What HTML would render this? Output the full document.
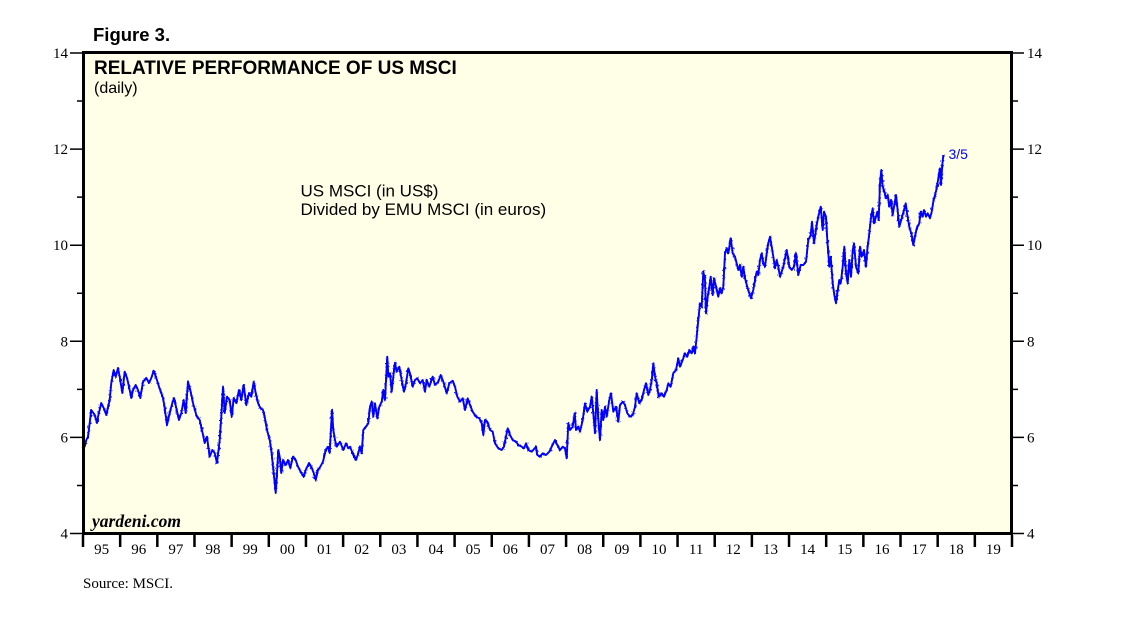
<!DOCTYPE html>
<html>
<head>
<meta charset="utf-8">
<style>
html,body{margin:0;padding:0;background:#fff;}
svg{display:block;}
.ax{font-family:"Liberation Serif",serif;font-size:15px;fill:#000;}
.sans{font-family:"Liberation Sans",sans-serif;}
</style>
</head>
<body>
<svg width="1138" height="621" viewBox="0 0 1138 621" xmlns="http://www.w3.org/2000/svg" xmlns:xlink="http://www.w3.org/1999/xlink">
  <defs>
    <filter id="jit" filterUnits="userSpaceOnUse" x="78" y="48" width="940" height="490">
      <feTurbulence type="fractalNoise" baseFrequency="0.7 0.4" numOctaves="2" seed="7" result="t"/>
      <feDisplacementMap in="SourceGraphic" in2="t" scale="6" xChannelSelector="R" yChannelSelector="G"/>
    </filter>
    <polyline id="data" fill="none" stroke-linejoin="round" points="83.5,450 86.3,440 88,436.7 91.3,410 94.7,415 97,423 98,416.7 101.3,403 103.7,408 106.3,415 109.7,400 111.3,383 113.7,370 115.7,376.7 118,368 119.7,376.7 122.3,393 124.7,371.7 127,378 129,386.7 131.3,398 133,390 135.7,385 138,390 140.3,398 143,381.7 146.3,378 149,383 151.3,378 153.7,370.7 156.3,378 159,386.7 163,398 164.7,408 167,425 169.7,413 172.3,403 174,398 176.3,408 179,420 181.3,413 183.7,400 185.7,413 188,381.7 190.3,390 193,403 196.3,415 199.7,420 202.3,431.7 204.7,443 207,436.7 209.7,456.7 212.3,450 214.7,453 217,463 219.7,440 221.3,416.7 223,386.7 224.7,413 227,396.7 229.7,400 231.7,416.7 233.7,398 236.3,403 239,390 241.3,400 243.7,385 246.3,405 249,393 251.3,396.7 253.7,381.7 255.7,393 258,403 260.3,408 263,410 264.7,416.7 267,430 269.7,440 271.3,450 273,466.7 274.7,483 275.7,493 277,473 278.3,450 279.7,456.7 281.3,473 283,460 285.7,465 288,460 290.3,468 293,456.7 295.7,460 298,466.7 301.3,473 303.7,476.7 305.7,470 309,463 311.3,466.7 313.7,473 315.7,480 318,470 320.3,466.7 323,461.7 325.7,450 328,446.7 329.7,453 332,410 333.3,430 335,440 336.7,446.7 340,441.7 343.3,450 346,443.3 348.3,448.3 350,446.7 353.3,455 356,460 358.3,453.3 360,446.7 361.7,453.3 363.3,430 366,426.7 368.3,423.3 370,406.7 371.7,401.7 373.3,416.7 375,403.3 377.3,418.3 379.3,406.7 381.7,401.7 383.3,390 385,400 386,380 387.3,356.7 388.3,376.7 390,373.3 391.7,391.7 393.3,376.7 395,362.7 396.7,371.7 399.3,366.7 401.7,380 404,391.7 406,383.3 408.3,368.3 410,373.3 412.7,386.7 415,380 417.3,378.3 420,383.3 422.7,380 425,391.7 426.7,380 429.3,386.7 432.7,376.7 435,385 438.3,381.7 440.7,375 443.3,381.7 446.7,393.3 449.3,383.3 452.7,380.7 455,386.7 457.3,396.7 460,401.7 462.7,398.3 465,410 467.7,398.3 470,405 472.7,411.7 476,416.7 479.3,418.3 481.7,423.3 483.3,435 485,420 487.3,421.7 490,430 492.7,431.7 495,443.3 498.3,448.3 501.7,450 504,446.7 506,436.7 507.7,428.3 510,435 512.7,440 516,441.7 518.3,445 521.7,446.7 524,448.3 526,443.3 528.3,450 531.7,451.7 536,446.7 537.3,455 540,456.7 542.7,453.3 546,455 549.3,451.7 551.7,446.7 555,440 557.3,445 560,450 562.7,446.7 565,448.3 566.7,458.3 568.3,423.3 570,430 572.7,426.7 574.7,413.3 576,430 578.3,426.7 580,431.7 582.7,420 585,403.3 587.3,411.7 590,406.7 591.7,396.7 593.3,413.3 595,433.3 596.7,390 598.3,420 600,440 601.7,410 603.3,420 605,406.7 606.7,416.7 609.3,400 611,393.3 613.3,411.7 616,406.7 618.3,421.7 620,405 622.7,401.7 625,405 627.3,413.3 630,416.7 632.7,415 635,406.7 636.7,393.3 639.3,403.3 641.7,400 644,390 646,383.3 648.3,395 650,390 651.7,380 653.3,363.3 655,376.7 656.7,383.3 658.7,396.7 661.7,393.3 664,396.7 666.7,390 668.3,383.3 670.7,386.7 673.3,373.3 676,370 678.3,358.3 680,366.7 682.7,360 685,353.3 687.3,356.7 689.3,350 691.7,353.3 693.3,346.7 695,353.3 696.7,336.7 698.3,320 700,303.3 701.7,306.7 703.3,271.7 705,280 706,313.3 707.7,296.7 709.3,286.7 710.7,276.7 712.7,295 714,278.3 716,286.7 718.3,296.7 720,288.3 721.7,293.3 723.3,286.7 725,253.3 726.7,248.3 728.3,253.3 730.7,238.3 732.7,253.3 735,256.7 736.7,263.3 738.3,270 740,265 741.7,276.7 743.3,266.7 745,278.3 747.3,286.7 749.3,293.3 751,298.3 753.3,290 755,280 756.7,271.7 758.3,275 760,260 761.7,253.3 763.3,263.3 765,266.7 766.7,253.3 768.3,243.3 770,236.7 771.7,246.7 773.3,256.7 775,268.3 776.7,260 778.3,266.7 780,276.7 783.3,266.7 786.7,250 789.3,266.7 791.7,270 794,266.7 796,253.3 798.3,275 800.7,265 803.3,265 806,261.7 808.3,240 810.7,235 812,221.7 814,243.3 816.7,225 818.3,216.7 820.7,206.7 822.7,230 824,211.7 826,216.7 827.3,240 829.3,266.7 830.7,256.7 832.7,283.3 834.3,295 836,303.3 837.3,293.3 839.3,280 840.7,283.3 842.7,266.7 844.3,246.7 846,273.3 847.7,283.3 849.3,260 851,276.7 852.7,250 854,243.3 856,266.7 858.3,273.3 860,246.7 861.7,256.7 864,250 866,266.7 867.3,250 869.3,233.3 870.7,220 872.7,208.3 874,223.3 876,216.7 877.3,211.7 878.7,220 880,183.3 881.3,170 882.7,186.7 884,190 886,198.3 887.7,195 889.3,206.7 891,200 892.7,215 894.3,205 896,195 897.3,206.7 899.3,226.7 901.7,218.3 904,210 905.7,203.3 907.3,215 909.3,226.7 911.7,235 913.3,245 915,236.7 916.7,228.3 919.3,223.3 920.7,211.7 922.7,216.7 924,210 926,216.7 927.7,213.3 930,218.3 931.7,211.7 933.3,201.7 935,195 936.7,188.3 938.3,178.3 940,168.3 941,185 942.3,165 943.3,155"/>
  </defs>
  <rect x="0" y="0" width="1138" height="621" fill="#fff"/>
  <rect x="83.5" y="52.5" width="928" height="481" fill="#fffee6"/>

  <text x="93" y="41" class="sans" font-size="18.5" font-weight="bold">Figure 3.</text>
  <text x="94" y="74" class="sans" font-size="19" font-weight="bold">RELATIVE PERFORMANCE OF US MSCI</text>
  <text x="94" y="93" class="sans" font-size="16">(daily)</text>
  <text x="300.5" y="196.7" class="sans" font-size="17">US MSCI (in US$)</text>
  <text x="300.5" y="215" class="sans" font-size="17">Divided by EMU MSCI (in euros)</text>
  <text x="92" y="527" font-family="'Liberation Serif',serif" font-size="17.5" font-weight="bold" font-style="italic">yardeni.com</text>
  <text x="83" y="588" class="ax">Source: MSCI.</text>
  <text x="948.5" y="159" class="sans" font-size="14" fill="#0000ff">3/5</text>

  <path stroke="#000" stroke-width="1.5" fill="none" d="
    M70,533.5H83 M70,437.4H83 M70,341.3H83 M70,245.2H83 M70,149.1H83 M70,53H83
    M77,485.45H83 M77,389.35H83 M77,293.25H83 M77,197.15H83 M77,101.05H83
    M1012,533.5H1024 M1012,437.4H1024 M1012,341.3H1024 M1012,245.2H1024 M1012,149.1H1024 M1012,53H1024
    M1012,485.45H1018 M1012,389.35H1018 M1012,293.25H1018 M1012,197.15H1018 M1012,101.05H1018"/>
  <g class="ax" text-anchor="end">
    <text x="68" y="538.5">4</text><text x="68" y="442.4">6</text><text x="68" y="346.3">8</text>
    <text x="68" y="250.2">10</text><text x="68" y="154.1">12</text><text x="68" y="58">14</text>
  </g>
  <g class="ax" text-anchor="start">
    <text x="1027" y="538.5">4</text><text x="1027" y="442.4">6</text><text x="1027" y="346.3">8</text>
    <text x="1027" y="250.2">10</text><text x="1027" y="154.1">12</text><text x="1027" y="58">14</text>
  </g>

  <path stroke="#000" stroke-width="2.5" fill="none" d="
    M83,535V547 M120.16,535V547 M157.32,535V547 M194.48,535V547 M231.64,535V547 M268.8,535V547
    M305.96,535V547 M343.12,535V547 M380.28,535V547 M417.44,535V547 M454.6,535V547 M491.76,535V547
    M528.92,535V547 M566.08,535V547 M603.24,535V547 M640.4,535V547 M677.56,535V547 M714.72,535V547
    M751.88,535V547 M789.04,535V547 M826.2,535V547 M863.36,535V547 M900.52,535V547 M937.68,535V547
    M974.84,535V547 M1012,535V547"/>
  <g class="ax" text-anchor="middle">
    <text x="101.58" y="554">95</text><text x="138.74" y="554">96</text><text x="175.9" y="554">97</text>
    <text x="213.06" y="554">98</text><text x="250.22" y="554">99</text><text x="287.38" y="554">00</text>
    <text x="324.54" y="554">01</text><text x="361.7" y="554">02</text><text x="398.86" y="554">03</text>
    <text x="436.02" y="554">04</text><text x="473.18" y="554">05</text><text x="510.34" y="554">06</text>
    <text x="547.5" y="554">07</text><text x="584.66" y="554">08</text><text x="621.82" y="554">09</text>
    <text x="658.98" y="554">10</text><text x="696.14" y="554">11</text><text x="733.3" y="554">12</text>
    <text x="770.46" y="554">13</text><text x="807.62" y="554">14</text><text x="844.78" y="554">15</text>
    <text x="881.94" y="554">16</text><text x="919.1" y="554">17</text><text x="956.26" y="554">18</text>
    <text x="993.42" y="554">19</text>
  </g>

  <use xlink:href="#data" href="#data" stroke="#0000ff" stroke-width="1.9"/>
  <g filter="url(#jit)">
    <use xlink:href="#data" href="#data" stroke="#0000ff" stroke-width="1.1"/>
  </g>

  <rect x="83.5" y="52.5" width="928" height="481" fill="none" stroke="#000" stroke-width="3"/>
</svg>
</body>
</html>
